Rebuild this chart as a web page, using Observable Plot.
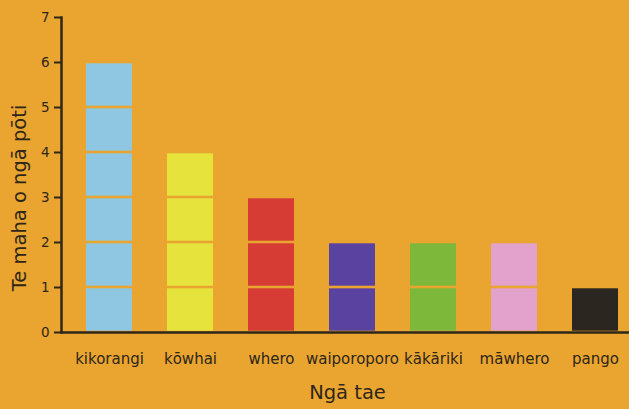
<!DOCTYPE html>
<html>
<head>
<meta charset="utf-8">
<script src="https://cdn.jsdelivr.net/npm/d3@7"></script>
<script src="https://cdn.jsdelivr.net/npm/@observablehq/plot@0.6"></script>
<style>
  html, body { margin: 0; padding: 0; background: #e9a530; }
  body { width: 629px; height: 409px; overflow: hidden; }
  svg { display: block; }
  svg text { fill: #2e2619; }
</style>
</head>
<body>
<div id="chart"></div>
<script>
const categories = ["kikorangi", "kōwhai", "whero", "waiporoporo", "kākāriki", "māwhero", "pango"];
const counts = [6, 4, 3, 2, 2, 2, 1];
const barColors = ["#8fc6e2", "#e7e33d", "#d63b34", "#5a42a0", "#7db83a", "#e2a2cc", "#2c2620"];
const yTicks = [0, 1, 2, 3, 4, 5, 6, 7];
const yLabel = "Te maha o ngā pōti";
const xLabel = "Ngā tae";

// one unit block per counted item
const blocks = categories.flatMap((c, k) =>
  d3.range(counts[k]).map(i => ({cat: c, lo: i, hi: i + 1}))
);

const font = "'DejaVu Sans', Verdana, sans-serif";
const ink = "#2e2619";

const chart = Plot.plot({
  width: 629,
  height: 409,
  marginLeft: 61,
  marginRight: 0,
  marginTop: 17,
  marginBottom: 77,
  style: {background: "#e9a530", fontFamily: font, color: ink},
  x: {type: "band", domain: categories, range: [84, 619], paddingInner: 0.436, paddingOuter: 0, axis: null},
  y: {domain: [0, 7], axis: null},
  color: {domain: categories, range: barColors},
  marks: [
    Plot.rectY(blocks, {x: "cat", y1: "lo", y2: "hi", fill: "cat", insetTop: 1.3, insetBottom: 1.3}),
    Plot.axisY({ticks: yTicks, tickSize: 7, tickPadding: 5, tickFormat: d => String(d), fontSize: 13.5, stroke: ink, strokeWidth: 2, label: null}),
    Plot.axisX({tickSize: 0, tickPadding: 21, fontSize: 15, label: null}),
    Plot.frame({anchor: "left", stroke: ink, strokeWidth: 2.5}),
    Plot.frame({anchor: "bottom", stroke: ink, strokeWidth: 2.5}),
    Plot.text([yLabel], {text: d => d, frameAnchor: "left", textAnchor: "middle", rotate: -90, dx: -42, dy: 23, fontSize: 19.5, fill: ink}),
    Plot.text([xLabel], {text: d => d, frameAnchor: "bottom", textAnchor: "middle", dx: 2, dy: 66, fontSize: 19.5, fill: ink})
  ]
});
document.getElementById("chart").appendChild(chart);
</script>
</body>
</html>
